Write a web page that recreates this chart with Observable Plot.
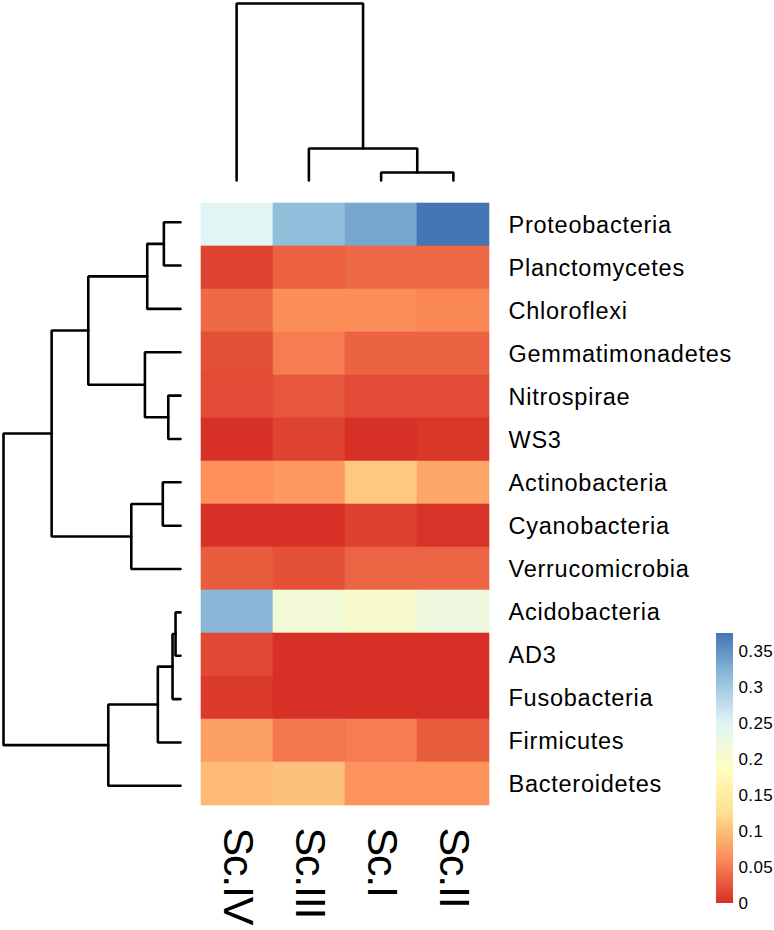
<!DOCTYPE html>
<html>
<head>
<meta charset="utf-8">
<script src="https://cdn.jsdelivr.net/npm/d3@7"></script>
<script src="https://cdn.jsdelivr.net/npm/@observablehq/plot@0.6"></script>
<style>
  body { margin: 0; background: #fff; }
  #chart { position: relative; width: 774px; height: 930px; font-family: "Liberation Sans", Arial, Helvetica, sans-serif; }
  #chart svg { position: absolute; left: 0; top: 0; overflow: visible; background: transparent; }
</style>
</head>
<body>
<div id="chart"></div>
<script>
// ---------- data ----------
const samples = ["Sc.IV", "Sc.III", "Sc.I", "Sc.II"];
const phyla = ["Proteobacteria", "Planctomycetes", "Chloroflexi", "Gemmatimonadetes", "Nitrospirae", "WS3",
  "Actinobacteria", "Cyanobacteria", "Verrucomicrobia", "Acidobacteria", "AD3", "Fusobacteria", "Firmicutes", "Bacteroidetes"];

// relative abundance per sample (same order as phyla)
const scIV  = [0.245, 0.013, 0.039, 0.020, 0.019, 0.001, 0.064, 0.001, 0.030, 0.318, 0.017, 0.007, 0.077, 0.096];
const scIII = [0.313, 0.033, 0.063, 0.052, 0.026, 0.013, 0.071, 0.001, 0.022, 0.214, 0.000, 0.000, 0.047, 0.101];
const scI   = [0.333, 0.039, 0.063, 0.034, 0.019, 0.000, 0.107, 0.011, 0.035, 0.202, 0.000, 0.000, 0.052, 0.067];
const scII  = [0.375, 0.039, 0.058, 0.034, 0.019, 0.005, 0.081, 0.002, 0.035, 0.222, 0.000, 0.000, 0.030, 0.067];

// column dendrogram merges: [a, b, height]; numbers refer to earlier merges
const colMerges = [["Sc.I", "Sc.II", 0.045], ["Sc.III", 0, 0.181], ["Sc.IV", 1, 1.0]];
// row dendrogram merges
const rowMerges = [
  ["Proteobacteria", "Planctomycetes", 0.094],   // 0
  [0, "Chloroflexi", 0.188],                      // 1
  ["Nitrospirae", "WS3", 0.069],                  // 2
  ["Gemmatimonadetes", 2, 0.201],                 // 3
  [1, 3, 0.521],                                  // 4
  ["Actinobacteria", "Cyanobacteria", 0.100],     // 5
  [5, "Verrucomicrobia", 0.278],                  // 6
  [4, 6, 0.728],                                  // 7
  ["Acidobacteria", "AD3", 0.028],                // 8
  [8, "Fusobacteria", 0.045],                     // 9
  [9, "Firmicutes", 0.128],                       // 10
  [10, "Bacteroidetes", 0.408],                   // 11
  [7, 11, 1.0]                                    // 12
];

// colour scale (pheatmap default: rev RdYlBu 7)
const colorBreaks = [0, 0.0625, 0.125, 0.1875, 0.25, 0.3125, 0.375];
const colorRange = ["#D73027", "#FC8D59", "#FEE090", "#FFFFBF", "#E0F3F8", "#91BFDB", "#4575B4"];
const legendTicks = [0, 0.05, 0.1, 0.15, 0.2, 0.25, 0.3, 0.35];
const legendMax = 0.375;

// ---------- helpers ----------
const series = [scIV, scIII, scI, scII];
const cells = phyla.flatMap((p, i) => samples.map((s, j) => ({phylum: p, sample: s, value: series[j][i]})));

function dendro(merges, order) {
  const nodes = [];
  const get = (k) => typeof k === "number" ? nodes[k] : {p: order.indexOf(k), h: 0};
  const pts = [];
  merges.forEach(([a, b, h], id) => {
    const A = get(a), B = get(b);
    pts.push({id, p: A.p, h: A.h}, {id, p: A.p, h}, {id, p: B.p, h}, {id, p: B.p, h: B.h});
    nodes[id] = {p: (A.p + B.p) / 2, h};
  });
  return pts;
}

const colorOpts = {type: "linear", domain: colorBreaks, range: colorRange, interpolate: "rgb"};
const fontStack = "Liberation Sans, Arial, Helvetica, sans-serif";
const W = 774, H = 930;
const chartDiv = document.getElementById("chart");

// ---------- heatmap ----------
const heatSvg = Plot.plot({
  width: W, height: H,
  marginLeft: 200, marginRight: 285, marginTop: 200, marginBottom: 123,
  style: {fontFamily: fontStack, color: "#000", background: "transparent"},
  x: {domain: samples, padding: 0, axis: null},
  y: {domain: phyla, padding: 0, axis: null},
  color: colorOpts,
  marks: [
    Plot.cell(cells, {x: "sample", y: "phylum", fill: "value", stroke: "value", strokeWidth: 0.6}),
    Plot.axisX({anchor: "bottom", tickRotate: 90, tickSize: 0, tickPadding: 20, fontSize: 43, label: null, fill: "#000"}),
    Plot.axisY({anchor: "right", tickSize: 0, tickPadding: 19, fontSize: 23.5, label: null, fill: "#000"})
  ]
});
chartDiv.appendChild(heatSvg);

// ---------- top dendrogram ----------
const topSvg = Plot.plot({
  width: W, height: H,
  marginLeft: 200, marginRight: 285, marginTop: 3, marginBottom: 750,
  style: {background: "transparent"},
  x: {domain: [-0.5, samples.length - 0.5], axis: null},
  y: {domain: [0, 1], axis: null},
  marks: [
    Plot.line(dendro(colMerges, samples), {x: "p", y: "h", z: "id", stroke: "#000", strokeWidth: 2.6, strokeLinejoin: "miter"})
  ]
});
chartDiv.appendChild(topSvg);

// ---------- left dendrogram ----------
const leftSvg = Plot.plot({
  width: W, height: H,
  marginLeft: 3, marginRight: 594, marginTop: 200, marginBottom: 123,
  style: {background: "transparent"},
  x: {domain: [0, 1], reverse: true, axis: null},
  y: {domain: [-0.5, phyla.length - 0.5], reverse: true, axis: null},
  marks: [
    Plot.line(dendro(rowMerges, phyla), {x: "h", y: "p", z: "id", stroke: "#000", strokeWidth: 2.6, strokeLinejoin: "miter"})
  ]
});
chartDiv.appendChild(leftSvg);

// ---------- colour legend ----------
const step = legendMax / 150;
const slices = d3.range(0, legendMax - step / 2, step);
const legendSvg = Plot.plot({
  width: W, height: H,
  marginLeft: 716, marginRight: 41, marginTop: 633, marginBottom: 27,
  style: {fontFamily: fontStack, fontSize: "17px", color: "#000", background: "transparent"},
  x: {domain: [0, 1], axis: null},
  y: {domain: [0, legendMax], axis: null},
  color: colorOpts,
  marks: [
    Plot.rect(slices, {x1: 0, x2: 1, y1: d => d, y2: d => Math.min(d + step * 1.5, legendMax), fill: d => d + step / 2}),
    Plot.axisY(legendTicks, {anchor: "right", tickSize: 0, tickPadding: 5, fontSize: 17, tickFormat: d => `${d}`, label: null, fill: "#000"})
  ]
});
chartDiv.appendChild(legendSvg);

// letter spacing tweaks to match the reference glyph proportions
d3.select(heatSvg).selectAll('g[aria-label="x-axis tick label"] text').style("letter-spacing", "-1.2px");
d3.select(heatSvg).selectAll('g[aria-label="y-axis tick label"] text').style("letter-spacing", "0.75px");
d3.select(legendSvg).selectAll('g[aria-label="y-axis tick label"]').style("font-size", "17px");
d3.select(legendSvg).selectAll('g[aria-label="y-axis tick label"] text').style("letter-spacing", "0.4px").style("font-size", "17px");
</script>
</body>
</html>
